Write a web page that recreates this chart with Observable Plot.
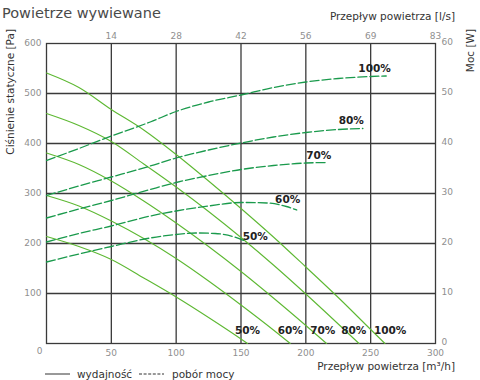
<!DOCTYPE html>
<html>
<head>
<meta charset="utf-8">
<script src="https://cdn.jsdelivr.net/npm/d3@7"></script>
<script src="https://cdn.jsdelivr.net/npm/@observablehq/plot@0.6"></script>
<style>
  html, body { margin: 0; padding: 0; background: #fff; }
  #chart { position: relative; width: 480px; height: 380px; overflow: hidden; }
  svg text { font-family: "DejaVu Sans", sans-serif; }
</style>
</head>
<body>
<div id="chart"></div>
<script>
// ---- Data ----
const speeds = ["50%", "60%", "70%", "80%", "100%"];

// Fan curves: static pressure [Pa] vs airflow [m³/h]
const q100 = [0, 25, 50, 75, 100, 125, 150, 175, 200, 225, 250, 261];
const p100 = [541, 512, 468, 427, 378, 325, 270, 213, 153, 92, 28, 0];
const q80 = [0, 25, 50, 75, 100, 125, 150, 175, 200, 225, 241];
const p80 = [460, 436, 404, 359, 313, 264, 212, 157, 99, 39, 0];
const q70 = [0, 25, 50, 75, 100, 125, 150, 175, 200, 216];
const p70 = [381, 358, 325, 285, 241, 194, 144, 91, 36, 0];
const q60 = [0, 25, 50, 75, 100, 125, 150, 175, 188];
const p60 = [296, 275, 245, 210, 170, 125, 77, 27, 0];
const q50 = [0, 25, 50, 75, 100, 125, 150, 155];
const p50 = [214, 194, 168, 131, 93, 52, 9, 0];

// Power curves: power [W] vs airflow [m³/h]
const wq100 = [0, 25, 50, 80, 100, 125, 150, 175, 200, 225, 250, 262];
const w100 = [36.6, 39.0, 41.5, 44.3, 46.4, 48.3, 49.7, 51.2, 52.3, 53.0, 53.4, 53.5];
const wq80 = [0, 25, 50, 80, 100, 125, 150, 175, 200, 225, 244];
const w80 = [29.6, 31.5, 33.3, 35.5, 37.1, 38.7, 40.1, 41.3, 42.2, 42.8, 43.0];
const wq70 = [0, 25, 50, 80, 100, 125, 150, 175, 200, 217];
const w70 = [25.1, 26.9, 28.6, 30.8, 32.2, 33.6, 34.8, 35.6, 36.1, 36.2];
const wq60 = [0, 25, 50, 80, 100, 125, 150, 170, 185, 193];
const w60 = [20.3, 22.0, 23.5, 25.5, 26.5, 27.5, 28.2, 28.1, 27.4, 26.7];
const wq50 = [0, 25, 50, 80, 100, 115, 130, 145, 152];
const w50 = [16.3, 17.9, 19.4, 21.1, 21.8, 22.1, 22.0, 21.3, 20.6];

// Label anchor positions (data units)
const pressLabelQ = [155, 188, 213, 237, 265];
const pressLabelP = [26, 26, 26, 26, 26];
const powLabelQ = [161, 186, 210, 235, 253];
const powLabelW = [21.4, 28.8, 37.6, 44.6, 55.0];

// Axis ticks
const xTicks = [50, 100, 150, 200, 250, 300];
const topTickLabels = ["14", "28", "42", "56", "69", "83"];
const yTicks = [100, 200, 300, 400, 500, 600];
const wTicks = [0, 10, 20, 30, 40, 50, 60];

// ---- Build tables ----
const W2P = 10; // 60 W ↔ 600 Pa
const fanQ = [q50, q60, q70, q80, q100];
const fanP = [p50, p60, p70, p80, p100];
const powQ = [wq50, wq60, wq70, wq80, wq100];
const powW = [w50, w60, w70, w80, w100];

const fanRows = speeds.flatMap((s, i) => fanQ[i].map((q, j) => ({speed: s, q, p: fanP[i][j]})));
const powRows = speeds.flatMap((s, i) => powQ[i].map((q, j) => ({speed: s, q, p: powW[i][j] * W2P})));
const pressLabels = speeds.map((s, i) => ({s, q: pressLabelQ[i], p: pressLabelP[i]}));
const powLabels = speeds.map((s, i) => ({s, q: powLabelQ[i], p: powLabelW[i] * W2P}));

const grid = "#3a3a3a";
const tickColor = "#8f8f8f";
const fanColor = "#5db832";
const powColor = "#1a9a4c";

const chart = Plot.plot({
  width: 480,
  height: 380,
  marginLeft: 46,
  marginRight: 45,
  marginTop: 43,
  marginBottom: 37,
  style: {fontFamily: "DejaVu Sans, sans-serif", fontSize: "9px", background: "#fff"},
  x: {domain: [0, 300]},
  y: {domain: [0, 600]},
  marks: [
    Plot.ruleX([50, 100, 150, 200, 250], {stroke: grid, strokeWidth: 1.3}),
    Plot.ruleY([100, 200, 300, 400, 500], {stroke: grid, strokeWidth: 1.3}),
    Plot.frame({stroke: grid, strokeWidth: 1.3}),
    Plot.line(fanRows, {x: "q", y: "p", z: "speed", stroke: fanColor, strokeWidth: 1.1, curve: "monotone-x"}),
    Plot.line(powRows, {x: "q", y: "p", z: "speed", stroke: powColor, strokeWidth: 1.3, strokeDasharray: "9,3", curve: "monotone-x"}),
    Plot.text(pressLabels, {x: "q", y: "p", text: "s", fill: "#222", fontWeight: "bold", fontSize: 10.5}),
    Plot.text(powLabels, {x: "q", y: "p", text: "s", fill: "#222", fontWeight: "bold", fontSize: 10.5}),
    Plot.axisY(yTicks, {anchor: "left", tickSize: 0, tickPadding: 5, label: null, color: tickColor}),
    Plot.axisY(wTicks.map(w => w * W2P), {anchor: "right", tickSize: 0, tickPadding: 6, dy: -1, label: null, tickFormat: d => d / W2P, color: tickColor}),
    Plot.axisX(xTicks, {anchor: "bottom", tickSize: 0, tickPadding: 6, label: null, color: tickColor}),
    Plot.text([0], {x: d => d, frameAnchor: "bottom", dy: 10, dx: -7, text: d => String(d), fill: tickColor}),
    Plot.axisX(xTicks, {anchor: "top", tickSize: 0, tickPadding: 5, label: null, tickFormat: (d, i) => topTickLabels[xTicks.indexOf(d)], color: tickColor})
  ]
});

const svg = d3.select(chart);
const titleStyle = (sel) => sel.attr("fill", "#333").attr("font-family", "DejaVu Sans, sans-serif").attr("font-size", "10.5px").attr("text-anchor", "start");
svg.append("text").text("Powietrze wywiewane")
  .attr("x", 2).attr("y", 18).attr("fill", "#4a4a4a").attr("text-anchor", "start")
  .attr("font-family", "DejaVu Sans, sans-serif").attr("font-size", "14.5px");
svg.append("text").text("Przepływ powietrza [l/s]").call(titleStyle)
  .attr("x", 455).attr("y", 20).attr("text-anchor", "end");
svg.append("text").text("Przepływ powietrza [m³/h]").call(titleStyle)
  .attr("x", 455).attr("y", 370).attr("text-anchor", "end");
svg.append("text").text("Ciśnienie statyczne [Pa]").call(titleStyle)
  .attr("text-anchor", "end").attr("transform", "translate(14,29) rotate(-90)");
svg.append("text").text("Moc [W]").call(titleStyle)
  .attr("text-anchor", "end").attr("transform", "translate(474,29) rotate(-90)");

// Legend
const lg = svg.append("g").attr("transform", "translate(45,374)");
lg.append("line").attr("x1", 0).attr("x2", 25).attr("y1", 0).attr("y2", 0).attr("stroke", "#333").attr("stroke-width", 1);
lg.append("text").text("wydajność").call(titleStyle).attr("x", 32).attr("y", 3.5);
lg.append("line").attr("x1", 94).attr("x2", 119).attr("y1", 0).attr("y2", 0).attr("stroke", "#333").attr("stroke-width", 1).attr("stroke-dasharray", "3,1.6");
lg.append("text").text("pobór mocy").call(titleStyle).attr("x", 127).attr("y", 3.5);

document.getElementById("chart").appendChild(chart);
</script>
</body>
</html>
